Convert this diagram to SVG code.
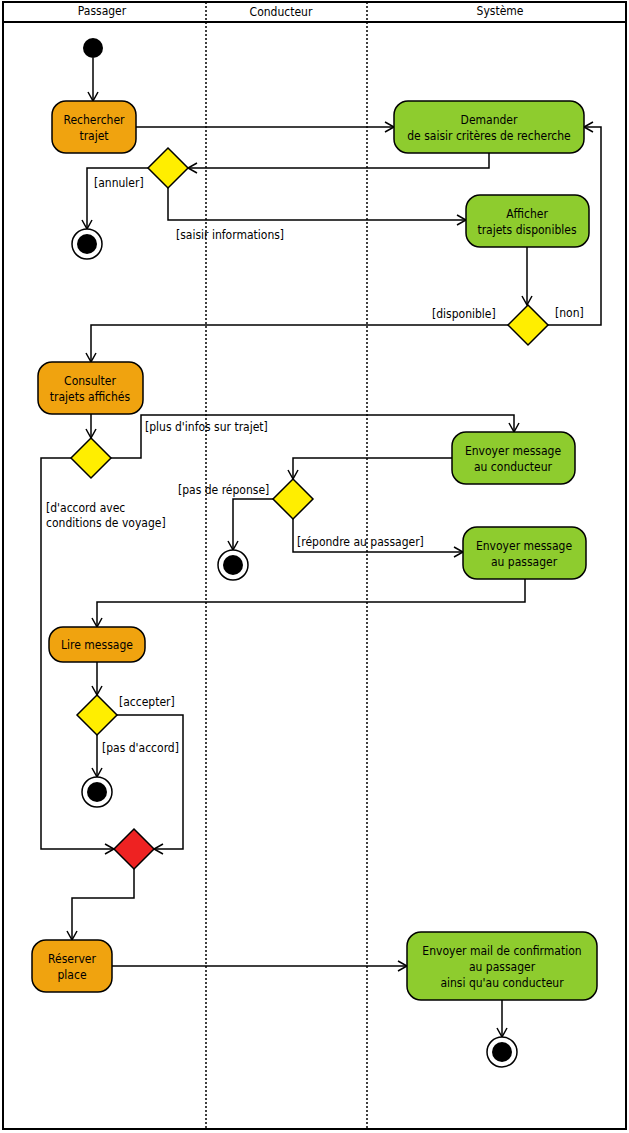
<svg xmlns="http://www.w3.org/2000/svg" width="629" height="1133" viewBox="0 0 629 1133">
<style>
text{font-family:"DejaVu Sans Condensed","DejaVu Sans",sans-serif;font-size:12px;fill:#000}
.c{text-anchor:middle}
.o{fill:#F0A30F;stroke:#000;stroke-width:1.5}
.g{fill:#8ECC2E;stroke:#000;stroke-width:1.5}
.y{fill:#FFEE00;stroke:#000;stroke-width:1.5}
.e{fill:#fff;stroke:#000;stroke-width:1.5}
#conn path{fill:none;stroke:#000;stroke-width:1.5;marker-end:url(#a)}
.lane{stroke:#000;stroke-width:1.5;stroke-dasharray:2,2}
</style>
<defs><marker id="a" markerWidth="12" markerHeight="12" refX="10" refY="6" orient="auto" markerUnits="userSpaceOnUse"><path d="M1,1 L10,6 L1,11" fill="none" stroke="#000" stroke-width="1.5"/></marker></defs>
<rect width="629" height="1133" fill="#fff"/>
<rect x="3" y="2" width="623" height="1127" fill="none" stroke="#000" stroke-width="2"/>
<line x1="3" y1="22" x2="626" y2="22" stroke="#000" stroke-width="2"/>
<line class="lane" x1="206" y1="2" x2="206" y2="1130"/>
<line class="lane" x1="367" y1="2" x2="367" y2="1130"/>
<text class="c" x="102" y="15">Passager</text>
<text class="c" x="281" y="16">Conducteur</text>
<text class="c" x="500" y="15">Système</text>
<g id="conn">
<path d="M93,58 V101"/>
<path d="M136,127 H394"/>
<path d="M489,153 V168 H188"/>
<path d="M148,168 H87 V229"/>
<path d="M168,188 V220 H466"/>
<path d="M527,247 V305"/>
<path d="M548,325 H601 V127 H584"/>
<path d="M508,325 H91 V362"/>
<path d="M91,414 V438"/>
<path d="M111,458 H141 V415 H514 V432"/>
<path d="M71,458 H41 V849 H114"/>
<path d="M452,458 H293 V479"/>
<path d="M273,499 H233 V550"/>
<path d="M293,519 V552 H463"/>
<path d="M525,579 V602 H97 V627"/>
<path d="M97,662 V695"/>
<path d="M117,715 H183 V849 H154"/>
<path d="M97,735 V777"/>
<path d="M134,869 V898 H72 V940"/>
<path d="M112,966 H407"/>
<path d="M502,1000 V1037"/>
</g>
<text x="94" y="187">[annuler]</text>
<text x="176" y="239">[saisir informations]</text>
<text x="555" y="317">[non]</text>
<text x="432" y="318">[disponible]</text>
<text x="145" y="431">[plus d'infos sur trajet]</text>
<text x="46" y="512">[d'accord avec</text>
<text x="46" y="527">conditions de voyage]</text>
<text x="178" y="494">[pas de réponse]</text>
<text x="297" y="546">[répondre au passager]</text>
<text x="119" y="706">[accepter]</text>
<text x="102" y="752">[pas d'accord]</text>
<g id="start"><circle cx="93" cy="48" r="10" fill="#000"/></g>
<g id="rechercher"><rect class="o" x="52" y="101" width="84" height="52" rx="14"/><text class="c" x="94" y="124">Rechercher</text><text class="c" x="94" y="140">trajet</text></g>
<g id="demander"><rect class="g" x="394" y="101" width="190" height="52" rx="14"/><text class="c" x="489" y="124">Demander</text><text class="c" x="489" y="140">de saisir critères de recherche</text></g>
<g id="d1"><polygon class="y" points="168,148 188,168 168,188 148,168"/></g>
<g id="end1"><circle class="e" cx="87" cy="244" r="15"/><circle cx="87" cy="244" r="10"/></g>
<g id="afficher"><rect class="g" x="466" y="195" width="123" height="52" rx="14"/><text class="c" x="527" y="218">Afficher</text><text class="c" x="527" y="234">trajets disponibles</text></g>
<g id="d2"><polygon class="y" points="528,305 548,325 528,345 508,325"/></g>
<g id="consulter"><rect class="o" x="38" y="362" width="105" height="52" rx="14"/><text class="c" x="90" y="385">Consulter</text><text class="c" x="90" y="401">trajets affichés</text></g>
<g id="d3"><polygon class="y" points="91,438 111,458 91,478 71,458"/></g>
<g id="envcond"><rect class="g" x="452" y="432" width="123" height="52" rx="14"/><text class="c" x="513" y="455">Envoyer message</text><text class="c" x="513" y="471">au conducteur</text></g>
<g id="d4"><polygon class="y" points="293,479 313,499 293,519 273,499"/></g>
<g id="end2"><circle class="e" cx="233" cy="565" r="15"/><circle cx="233" cy="565" r="10"/></g>
<g id="envpass"><rect class="g" x="463" y="527" width="123" height="52" rx="14"/><text class="c" x="524" y="550">Envoyer message</text><text class="c" x="524" y="566">au passager</text></g>
<g id="lire"><rect class="o" x="49" y="627" width="96" height="35" rx="14"/><text class="c" x="97" y="649">Lire message</text></g>
<g id="d5"><polygon class="y" points="97,695 117,715 97,735 77,715"/></g>
<g id="end3"><circle class="e" cx="97" cy="792" r="15"/><circle cx="97" cy="792" r="10"/></g>
<g id="merge"><polygon points="134,829 154,849 134,869 114,849" fill="#EE2222" stroke="#000" stroke-width="1.5"/></g>
<g id="reserver"><rect class="o" x="32" y="940" width="80" height="52" rx="14"/><text class="c" x="72" y="963">Réserver</text><text class="c" x="72" y="979">place</text></g>
<g id="mail"><rect class="g" x="407" y="932" width="190" height="68" rx="14"/><text class="c" x="502" y="955">Envoyer mail de confirmation</text><text class="c" x="502" y="971">au passager</text><text class="c" x="502" y="987">ainsi qu'au conducteur</text></g>
<g id="end4"><circle class="e" cx="502" cy="1052" r="15"/><circle cx="502" cy="1052" r="10"/></g>
</svg>
